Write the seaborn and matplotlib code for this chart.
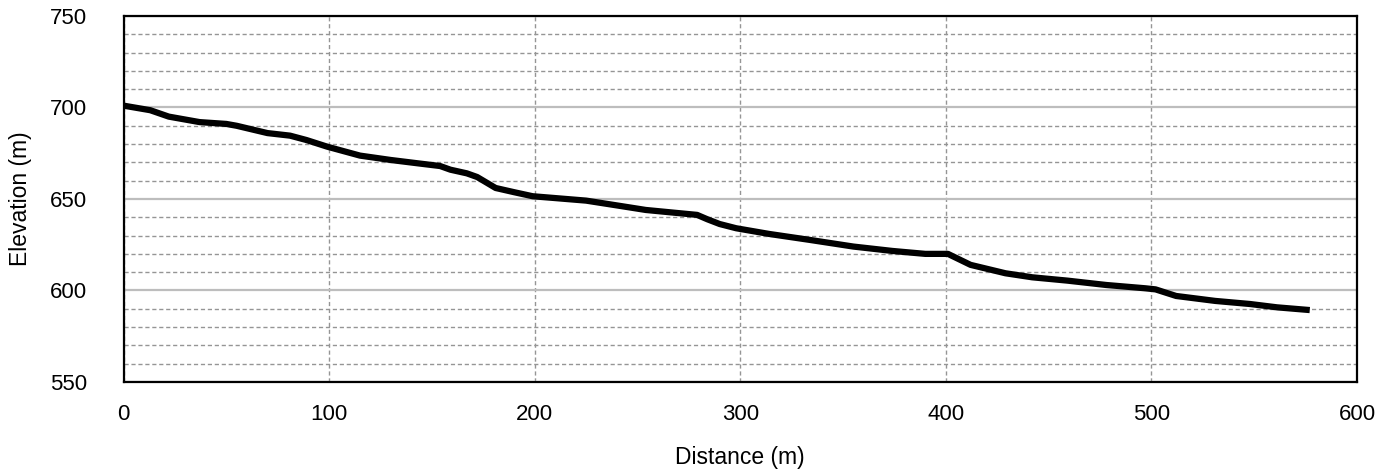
import numpy as np
import pandas as pd
import matplotlib
matplotlib.use("Agg")
import matplotlib.pyplot as plt
import seaborn as sns
from matplotlib.ticker import MultipleLocator

# profile
distance = [0, 13, 22, 37, 50, 55, 70, 81, 89, 99, 115, 130, 143, 154, 159, 167, 172,
            181, 190, 199, 225, 241, 254, 266, 279, 284, 290, 298, 314, 334, 355, 374,
            390, 401, 412, 429, 442, 459, 478, 497, 502, 512, 531, 548, 561, 577]
elevation = [701, 698.5, 695, 692, 691, 690, 686, 684.6, 682.2, 678.6, 673.7, 671.3,
             669.5, 668, 666, 664, 662, 656, 653.7, 651.5, 649.1, 646.3, 644, 642.7,
             641.3, 638.9, 636.3, 634, 630.9, 627.6, 624, 621.6, 620, 620, 614, 609.4,
             607.2, 605.4, 603, 601.2, 600.6, 597, 594.3, 592.6, 590.8, 589.3]
xticks = [0, 100, 200, 300, 400, 500, 600]
yticks = [550, 600, 650, 700, 750]

df = pd.DataFrame({"Distance (m)": distance, "Elevation (m)": elevation})

sns.set_style("white")
plt.rcParams["font.family"] = ["Liberation Sans", "DejaVu Sans"]
plt.rcParams["text.color"] = "black"
plt.rcParams["axes.labelcolor"] = "black"
plt.rcParams["xtick.color"] = "black"
plt.rcParams["ytick.color"] = "black"

fig = plt.figure(figsize=(13.88, 4.72), dpi=100)
ax = fig.add_axes([0.089, 0.1907, 0.8887, 0.7755])

sns.lineplot(data=df, x="Distance (m)", y="Elevation (m)", ax=ax, color="black",
             linewidth=4.5, solid_capstyle="butt", solid_joinstyle="round", zorder=5)

ax.set_xlim(0, 600)
ax.set_ylim(550, 750)
ax.set_xticks(xticks)
ax.set_yticks(yticks)
ax.yaxis.set_minor_locator(MultipleLocator(10))

ax.grid(axis="y", which="major", color="#bdbdbd", linestyle="-", linewidth=1.6, zorder=1)
ax.grid(axis="y", which="minor", color="#959595", linestyle=(0, (3, 2)), linewidth=1.0, zorder=1)
ax.grid(axis="x", which="major", color="#959595", linestyle=(0, (3, 2)), linewidth=1.0, zorder=1)

for s in ax.spines.values():
    s.set_color("black")
    s.set_linewidth(1.6)

ax.tick_params(axis="both", which="major", direction="out", length=5, width=1.6,
               color="black", labelcolor="black", labelsize=16)
ax.tick_params(axis="x", which="major", pad=11)
ax.tick_params(axis="y", which="major", pad=21)
ax.tick_params(axis="y", which="minor", length=0)

ax.set_xlabel("Distance (m)", fontsize=16.5, labelpad=15, color="black")
ax.set_ylabel("Elevation (m)", fontsize=16.5, labelpad=13, color="black")

fig.savefig("out.png", dpi=100)
